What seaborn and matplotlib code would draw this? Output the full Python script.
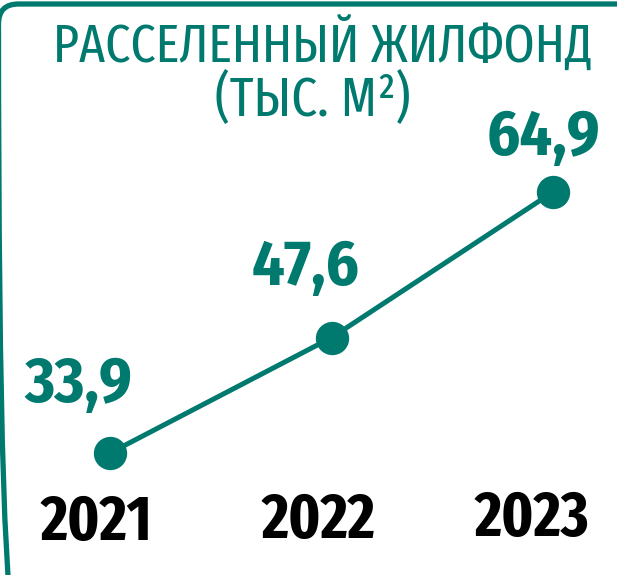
import matplotlib
matplotlib.use("Agg")
import matplotlib.pyplot as plt
from matplotlib.patches import FancyBboxPatch
from matplotlib.transforms import IdentityTransform, ScaledTranslation, blended_transform_factory
import seaborn as sns
import pandas as pd

years = [2021, 2022, 2023]
values = [33.9, 47.6, 64.9]
value_labels = ["33,9", "47,6", "64,9"]
title_line1 = "РАССЕЛЕННЫЙ ЖИЛФОНД"
title_line2 = "(ТЫС. М²)"

TEAL = "#00796F"

sns.set_theme(style="white")
plt.rcParams["font.family"] = ["Fira Sans Condensed", "Roboto Condensed", "DejaVu Sans"]
NARROW = ["Fira Sans Extra Condensed", "Fira Sans Condensed", "DejaVu Sans"]

df = pd.DataFrame({"year": years, "value": values})

fig = plt.figure(figsize=(6.17, 5.75), dpi=100)
ax = fig.add_axes([0, 0, 1, 1])
ax.set_axis_off()

sns.lineplot(data=df, x="year", y="value", ax=ax, color=TEAL, linewidth=3.6,
             marker="o", markersize=24, markeredgewidth=0, zorder=3)

ax.set_xlim(2020.503, 2023.289)
ax.set_ylim(19.41, 87.7)

# value labels sit above-left of each point (offsets in points)
label_offsets = [(-23, 49), (-19, 50), (-7, 39)]
for x, y, lab, off in zip(years, values, value_labels, label_offsets):
    ax.annotate(lab, (x, y), xytext=off, textcoords="offset points",
                ha="center", va="center", fontsize=46, fontweight="bold",
                color=TEAL)

# year labels along the bottom, nudged left of the points
year_dx = [-0.14, -0.13, -0.21]
year_y = [0.091, 0.094, 0.097]
base = blended_transform_factory(ax.transData, fig.transFigure)
for x, dx, yy in zip(years, year_dx, year_y):
    tr = base + ScaledTranslation(dx, 0, fig.dpi_scale_trans)
    ax.text(x, yy, str(x), transform=tr, ha="center", va="center",
            fontsize=46, fontweight="bold", color="black", family=NARROW)

fig.text(0.522, 0.922, title_line1, ha="center", va="center",
         fontsize=39, color=TEAL, family=NARROW)
fig.text(0.507, 0.826, title_line2, ha="center", va="center",
         fontsize=40, color=TEAL, family=NARROW)

frame = FancyBboxPatch((-1.5, -60), 720, 575 - 4 + 60,
                       boxstyle="round,pad=0,rounding_size=20",
                       transform=IdentityTransform(), fill=False,
                       edgecolor=TEAL, linewidth=3.8, clip_on=False)
fig.patches.append(frame)

fig.savefig("out.png", dpi=100)
